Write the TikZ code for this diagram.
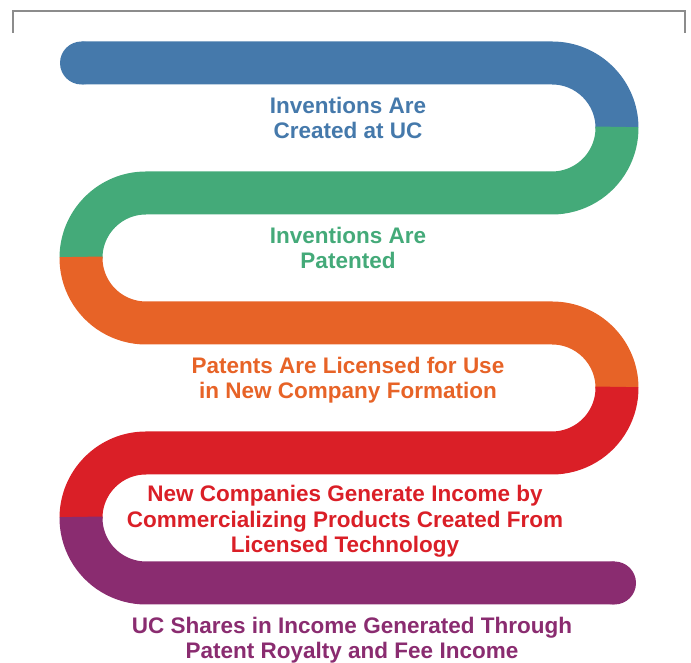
\documentclass[tikz,border=0pt]{standalone}
\usepackage{fontspec}
\setmainfont{Liberation Sans}
\definecolor{ucblue}{HTML}{4579AB}
\definecolor{ucgreen}{HTML}{44AA79}
\definecolor{ucorange}{HTML}{E76327}
\definecolor{ucred}{HTML}{DA1F27}
\definecolor{ucpurple}{HTML}{8A2C70}
\begin{document}
\begin{tikzpicture}[x=1pt,y=1pt,
	band/.style={line width=43pt},
	stufe/.style={font=\fontsize{22.5}{25.5}\selectfont\bfseries, align=center}]
	\useasboundingbox (0,0) rectangle (691,663);
	% Rahmen oben
	\draw [color=gray!90, line width=1.2pt] (13,630) -- (13,652) -- (685,652) -- (685,630);
	% Band 1: blau
	\draw [band, ucblue] (81.5,600) -- (552,600) arc [start angle=90, end angle=0, radius=65pt];
	\fill [ucblue] (81.5,600) circle [radius=21.5pt];
	% Band 2: gruen (beginnt etwas frueher, damit keine Fuge bleibt)
	\draw [band, ucgreen] ([shift={(1:65pt)}]552,535) arc [start angle=1, end angle=-90, radius=65pt] -- (146,470) arc [start angle=90, end angle=180, radius=65pt];
	% Band 3: orange
	\draw [band, ucorange] ([shift={(179:65pt)}]146,405) arc [start angle=179, end angle=270, radius=65pt] -- (552,340) arc [start angle=90, end angle=0, radius=65pt];
	% Band 4: rot
	\draw [band, ucred] ([shift={(1:65pt)}]552,275) arc [start angle=1, end angle=-90, radius=65pt] -- (146,210) arc [start angle=90, end angle=180, radius=65pt];
	% Band 5: lila
	\draw [band, ucpurple] ([shift={(179:65pt)}]146,145) arc [start angle=179, end angle=270, radius=65pt] -- (614.5,80);
	\fill [ucpurple] (614.5,80) circle [radius=21.5pt];
	% Texte
	\node [stufe, text=ucblue] (erfindung) at (348,545) {Inventions Are\\Created at UC};
	\node [stufe, text=ucgreen] (patent) at (348,414.8) {Inventions Are\\Patented};
	\node [stufe, text=ucorange] (lizenz) at (348,283) {Patents Are Licensed for Use\\in New Company Formation};
	\node [stufe, text=ucred] (firmen) at (345,141.5) {New Companies Generate Income by\\Commercializing Products Created From\\Licensed Technology};
	\node [stufe, text=ucpurple] (anteil) at (352,23) {UC Shares in Income Generated Through\\Patent Royalty and Fee Income};
\end{tikzpicture}
\end{document}
